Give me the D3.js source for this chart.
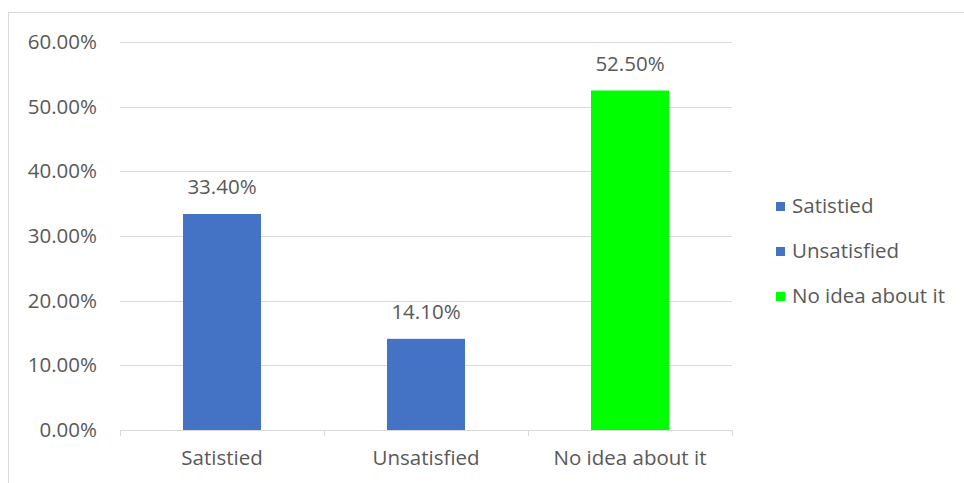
<!DOCTYPE html>
<html>
<head>
<meta charset="utf-8">
<script src="https://cdn.jsdelivr.net/npm/d3@7"></script>
<style>
  body { margin: 0; background: #fff; }
  svg { display: block; }
  text { font-family: "Open Sans", "Noto Sans", sans-serif; fill: #595959; }
</style>
</head>
<body>
<svg id="drawing_region"></svg>
<script>
var categories = ['Satistied', 'Unsatisfied', 'No idea about it']
var values = [0.334, 0.141, 0.525]
var colors = ['#4472c4', '#4472c4', '#00ff00']
var yTicks = [0, 0.1, 0.2, 0.3, 0.4, 0.5, 0.6]

var config = {
  parent: '#drawing_region',
  width: 964,
  height: 483,
  margin: {top: 42, right: 232, bottom: 53, left: 120}
}
var fontSize = '20.5px'

const svg = d3.select(config.parent)
  .attr('width', config.width)
  .attr('height', config.height)

// chart area border (clipped at right/bottom like the screenshot)
svg.append('rect')
  .attr('x', 8.5).attr('y', 12.5)
  .attr('width', 1000).attr('height', 500)
  .attr('fill', 'none')
  .attr('stroke', '#d9d9d9')

const inner_width = config.width - config.margin.left - config.margin.right
const inner_height = config.height - config.margin.top - config.margin.bottom

const chart = svg.append('g')
  .attr('transform', `translate(${config.margin.left}, ${config.margin.top})`)

const xscale = d3.scaleBand()
  .domain(categories)
  .range([0, inner_width])
  .paddingInner(0)
  .paddingOuter(0)

const yscale = d3.scaleLinear()
  .domain([0, 0.6])
  .range([inner_height, 0])

// gridlines
chart.append('g')
  .selectAll('line')
  .data(yTicks.slice(1))
  .join('line')
  .attr('x1', 0).attr('x2', inner_width)
  .attr('y1', d => Math.round(yscale(d)) + 0.5)
  .attr('y2', d => Math.round(yscale(d)) + 0.5)
  .attr('stroke', '#d9d9d9')
  .attr('stroke-width', 1)

// y axis labels
const yaxis = d3.axisLeft(yscale)
  .tickValues(yTicks)
  .tickFormat(d => (d * 100).toFixed(2) + '%')
  .tickSize(0)
  .tickPadding(23)

const yaxis_group = chart.append('g').call(yaxis)
yaxis_group.select('.domain').remove()
yaxis_group.selectAll('text')
  .style('font-size', fontSize)
  .attr('font-family', null)
  .attr('fill', '#595959')

// bars
const barW = 78
chart.selectAll('rect.bar')
  .data(values)
  .join('rect')
  .attr('class', 'bar')
  .attr('x', (d, i) => xscale(categories[i]) + xscale.bandwidth() / 2 - barW / 2)
  .attr('y', d => yscale(d))
  .attr('width', barW)
  .attr('height', d => inner_height - yscale(d))
  .attr('fill', (d, i) => colors[i])

// value labels
chart.selectAll('text.val')
  .data(values)
  .join('text')
  .attr('class', 'val')
  .attr('x', (d, i) => xscale(categories[i]) + xscale.bandwidth() / 2)
  .attr('y', d => yscale(d) - 20)
  .attr('text-anchor', 'middle')
  .style('font-size', fontSize)
  .text(d => (d * 100).toFixed(2) + '%')

// x axis
const xaxis = d3.axisBottom(xscale)
  .tickSize(0)
  .tickPadding(20)
const xaxis_group = chart.append('g')
  .attr('transform', `translate(0, ${inner_height})`)
  .call(xaxis)
xaxis_group.select('.domain').remove()
xaxis_group.selectAll('text')
  .style('font-size', fontSize)
  .attr('font-family', null)
  .attr('fill', '#595959')

chart.append('line')
  .attr('x1', 0).attr('x2', inner_width)
  .attr('y1', inner_height + 0.5).attr('y2', inner_height + 0.5)
  .attr('stroke', '#d9d9d9')

// category boundary ticks
const bounds = categories.map(c => xscale(c)).concat([inner_width])
chart.selectAll('line.btick')
  .data(bounds)
  .join('line')
  .attr('class', 'btick')
  .attr('x1', d => Math.round(d) + 0.5).attr('x2', d => Math.round(d) + 0.5)
  .attr('y1', inner_height).attr('y2', inner_height + 6)
  .attr('stroke', '#d9d9d9')

// legend
const legend = svg.append('g')
  .attr('transform', 'translate(776, 206)')
const rows = legend.selectAll('g')
  .data(categories)
  .join('g')
  .attr('transform', (d, i) => `translate(0, ${i * 45})`)
rows.append('rect')
  .attr('x', 0).attr('y', -4)
  .attr('width', 9).attr('height', 9)
  .attr('fill', (d, i) => colors[i])
rows.append('text')
  .attr('x', 16).attr('y', 0)
  .attr('dy', '0.35em')
  .style('font-size', fontSize)
  .text(d => d)
</script>
</body>
</html>
